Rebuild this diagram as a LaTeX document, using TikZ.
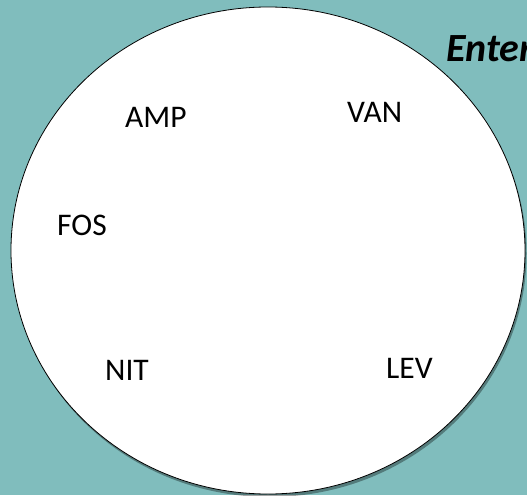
\documentclass[tikz,border=0pt]{standalone}
\usepackage{fontspec}
\setmainfont{Carlito}
\usetikzlibrary{shadows}
\definecolor{bgteal}{RGB}{128,189,189}
\tikzset{
  lbl/.style={anchor=base west, inner sep=0pt, font=\fontsize{31.5}{38}\selectfont},
  ttl/.style={anchor=base west, inner sep=0pt, font=\fontsize{40}{48}\selectfont\bfseries\itshape},
  ring/.style={draw=black, line width=0.8pt, fill=white,
    drop shadow={shadow xshift=1.5pt, shadow yshift=-3pt, opacity=0.35, fill=black}}
}
\begin{document}
\begin{tikzpicture}[x=1pt, y=-1pt]
\useasboundingbox (0,0) rectangle (527,495);
\clip (0,0) rectangle (527,495);
\fill[bgteal] (0,0) rectangle (527,495);
\node[ttl] (title) at (446,61) {Enter};
\path[ring] (268,250.5) ellipse [x radius=257, y radius=243.5];
\node[lbl] (amp) at (125,127) {AMP};
\node[lbl] (van) at (347,122) {VAN};
\node[lbl] (fos) at (57,235) {FOS};
\node[lbl] (nit) at (105,380) {NIT};
\node[lbl] (lev) at (386,378) {LEV};
\end{tikzpicture}
\end{document}
